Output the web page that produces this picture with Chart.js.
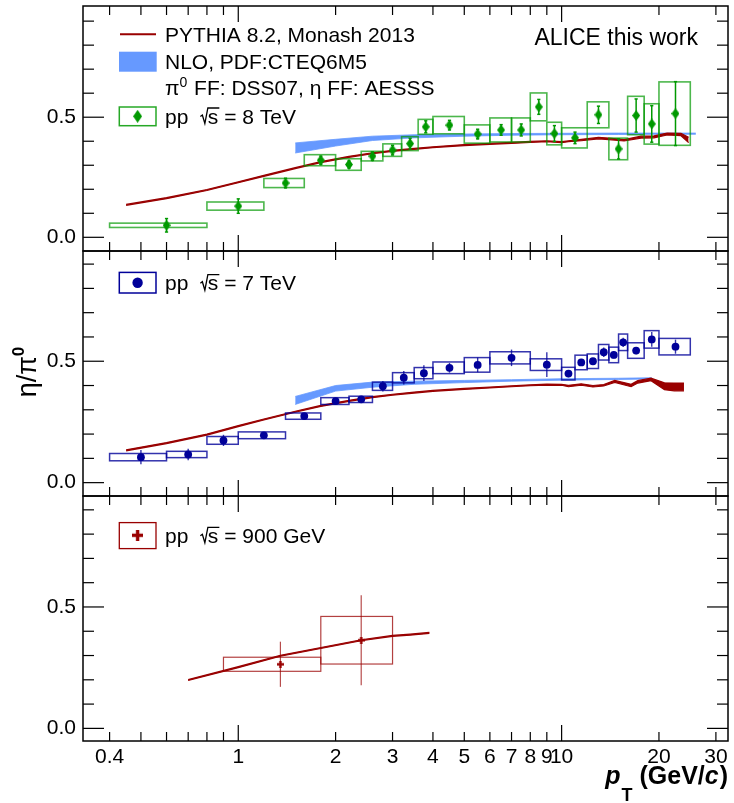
<!DOCTYPE html>
<html>
<head>
<meta charset="utf-8">
<script src="https://cdn.jsdelivr.net/npm/chart.js@4.4.0/dist/chart.umd.min.js"></script>
<style>
  html, body { margin: 0; padding: 0; background: #fff; }
  canvas { display: block; }
</style>
</head>
<body>
<canvas id="eta_pi0" width="734" height="803"></canvas>
<script>
const FONT = "'Liberation Sans', Arial, Helvetica, sans-serif";

// axes
const X_MIN = 0.331, X_MAX = 32.7;
const X_LABEL_TICKS = [0.4, 1, 2, 3, 4, 5, 6, 7, 8, 9, 10, 20, 30];
const X_LABELS = ['0.4', '1', '2', '3', '4', '5', '6', '7', '8', '9', '10', '20', '30'];
const X_MINOR_TICKS = [0.4, 0.5, 0.6, 0.7, 0.8, 0.9, 2, 3, 4, 5, 6, 7, 8, 9, 20, 30];
const X_MAJOR_TICKS = [1, 10];
const Y_TICKS = [0, 0.1, 0.2, 0.3, 0.4, 0.5, 0.6, 0.7, 0.8, 0.9];
const Y_LABEL_TICKS = [0, 0.5];

// pp 8 TeV
const PT_8 = [0.6, 1.0, 1.4, 1.8, 2.2, 2.6, 3.0, 3.4, 3.8, 4.5, 5.5, 6.5, 7.5, 8.5, 9.5, 11, 13, 15, 17, 19, 22.5];
const BIN_LO_8 = [0.4, 0.8, 1.2, 1.6, 2.0, 2.4, 2.8, 3.2, 3.6, 4, 5, 6, 7, 8, 9, 10, 12, 14, 16, 18, 20];
const BIN_HI_8 = [0.8, 1.2, 1.6, 2.0, 2.4, 2.8, 3.2, 3.6, 4.0, 5, 6, 7, 8, 9, 10, 12, 14, 16, 18, 20, 25];
const RATIO_8 = [0.050, 0.130, 0.226, 0.321, 0.303, 0.338, 0.363, 0.390, 0.460, 0.467, 0.430, 0.447, 0.447, 0.543, 0.432, 0.414, 0.510, 0.368, 0.507, 0.472, 0.515];
const STAT_8 = [0.028, 0.030, 0.020, 0.017, 0.015, 0.017, 0.020, 0.022, 0.025, 0.020, 0.020, 0.022, 0.025, 0.031, 0.033, 0.024, 0.036, 0.042, 0.069, 0.076, 0.133];
const SYS_8 = [0.009, 0.017, 0.019, 0.023, 0.024, 0.020, 0.026, 0.029, 0.031, 0.036, 0.038, 0.050, 0.050, 0.058, 0.047, 0.042, 0.054, 0.045, 0.080, 0.084, 0.132];

// pp 7 TeV
const PT_7 = [0.5, 0.7, 0.9, 1.2, 1.6, 2.0, 2.4, 2.8, 3.25, 3.75, 4.5, 5.5, 7.0, 9.0, 10.5, 11.5, 12.5, 13.5, 14.5, 15.5, 17.0, 19.0, 22.5];
const BIN_LO_7 = [0.4, 0.6, 0.8, 1.0, 1.4, 1.8, 2.2, 2.6, 3.0, 3.5, 4.0, 5.0, 6.0, 8.0, 10, 11, 12, 13, 14, 15, 16, 18, 20];
const BIN_HI_7 = [0.6, 0.8, 1.0, 1.4, 1.8, 2.2, 2.6, 3.0, 3.5, 4.0, 5.0, 6.0, 8.0, 10, 11, 12, 13, 14, 15, 16, 18, 20, 25];
const RATIO_7 = [0.105, 0.116, 0.174, 0.195, 0.274, 0.336, 0.343, 0.397, 0.432, 0.451, 0.473, 0.485, 0.514, 0.486, 0.449, 0.495, 0.500, 0.537, 0.526, 0.578, 0.544, 0.590, 0.560];
const STAT_7 = [0.029, 0.024, 0.023, 0.008, 0.008, 0.010, 0.012, 0.022, 0.028, 0.032, 0.020, 0.030, 0.034, 0.051, 0.015, 0.012, 0.012, 0.020, 0.015, 0.019, 0.015, 0.030, 0.029];
const SYS_7 = [0.015, 0.013, 0.016, 0.014, 0.013, 0.014, 0.013, 0.017, 0.021, 0.023, 0.024, 0.030, 0.025, 0.024, 0.026, 0.030, 0.030, 0.032, 0.032, 0.034, 0.032, 0.036, 0.034];

// pp 900 GeV
const PT_900 = [1.35, 2.4];
const BIN_LO_900 = [0.9, 1.8];
const BIN_HI_900 = [1.8, 3.0];
const RATIO_900 = [0.264, 0.363];
const STAT_900 = [0.093, 0.185];
const SYS_900 = [0.029, 0.098];

// PYTHIA 8.2 Monash 2013 (band: value +- err)
const PYTHIA_PT_8 = [0.45, 0.6, 0.8, 1.0, 1.2, 1.5, 1.8, 2.2, 2.6, 3.0, 3.5, 4.0, 5.0, 6.0, 7.0, 8.0, 9.0, 10.0, 10.5, 11.5, 13.0, 14.0, 15.6, 17.6, 19.3, 21.2, 23.4, 24.7];
const PYTHIA_8 = [0.135, 0.163, 0.197, 0.229, 0.256, 0.288, 0.313, 0.335, 0.350, 0.360, 0.368, 0.375, 0.384, 0.389, 0.393, 0.397, 0.400, 0.396, 0.400, 0.405, 0.413, 0.410, 0.404, 0.417, 0.418, 0.430, 0.428, 0.405];
const PYTHIA_ERR_8 = [0.002, 0.002, 0.002, 0.002, 0.002, 0.002, 0.002, 0.002, 0.002, 0.002, 0.002, 0.002, 0.002, 0.002, 0.002, 0.002, 0.002, 0.002, 0.002, 0.003, 0.003, 0.003, 0.003, 0.004, 0.004, 0.004, 0.005, 0.011];
const PYTHIA_PT_7 = [0.45, 0.6, 0.8, 1.0, 1.2, 1.5, 1.8, 2.2, 2.6, 3.0, 3.5, 4.0, 5.0, 6.0, 7.0, 8.0, 9.0, 10.0, 10.5, 11.5, 12.5, 13.5, 14.6, 16.4, 17.2, 18.9, 20.8, 22.3, 23.9];
const PYTHIA_7 = [0.133, 0.163, 0.198, 0.233, 0.260, 0.292, 0.316, 0.337, 0.352, 0.362, 0.371, 0.378, 0.386, 0.392, 0.397, 0.401, 0.404, 0.403, 0.398, 0.404, 0.397, 0.401, 0.417, 0.400, 0.415, 0.425, 0.397, 0.394, 0.394];
const PYTHIA_ERR_7 = [0.002, 0.002, 0.002, 0.002, 0.002, 0.002, 0.002, 0.002, 0.002, 0.002, 0.002, 0.002, 0.002, 0.002, 0.002, 0.002, 0.002, 0.002, 0.003, 0.003, 0.003, 0.003, 0.004, 0.005, 0.005, 0.005, 0.014, 0.016, 0.016];
const PYTHIA_PT_900 = [0.7, 1.0, 1.35, 1.8, 2.4, 3.0, 3.4, 3.9];
const PYTHIA_900 = [0.199, 0.252, 0.299, 0.331, 0.363, 0.381, 0.386, 0.393];
const PYTHIA_ERR_900 = [0.002, 0.002, 0.002, 0.002, 0.002, 0.002, 0.002, 0.002];

// NLO, PDF:CTEQ6M5 band (lower / upper edge)
const NLO_PT_8 = [1.5, 2.0, 2.6, 3.5, 5, 7, 10, 15, 20, 26];
const NLO_LO_8 = [0.351, 0.380, 0.403, 0.414, 0.421, 0.425, 0.427, 0.428, 0.429, 0.429];
const NLO_HI_8 = [0.393, 0.408, 0.421, 0.427, 0.430, 0.432, 0.433, 0.434, 0.434, 0.434];
const NLO_PT_7 = [1.5, 2.0, 2.6, 3.5, 5, 7, 10, 15, 19];
const NLO_LO_7 = [0.322, 0.377, 0.393, 0.405, 0.412, 0.418, 0.422, 0.425, 0.427];
const NLO_HI_7 = [0.355, 0.400, 0.414, 0.418, 0.421, 0.424, 0.428, 0.430, 0.432];

const GREEN = '#009900';
const BLUE = '#000099';
const RED = '#990000';
const NLO_BLUE = '#6699ff';

const points = (xs, ys) => xs.map((x, i) => ({ x: x, y: ys[i] }));
const shifted = (xs, ys, err, sign) => xs.map((x, i) => ({ x: x, y: ys[i] + sign * err[i] }));

function diamondMarker(w, h, color) {
  const c = document.createElement('canvas');
  c.width = w; c.height = h;
  const g = c.getContext('2d');
  g.fillStyle = color;
  g.beginPath();
  g.moveTo(w / 2, 0); g.lineTo(w, h / 2); g.lineTo(w / 2, h); g.lineTo(0, h / 2);
  g.closePath();
  g.fill();
  return c;
}

function crossMarker(s, t, color) {
  const c = document.createElement('canvas');
  c.width = s; c.height = s;
  const g = c.getContext('2d');
  g.fillStyle = color;
  g.fillRect((s - t) / 2, 0, t, s);
  g.fillRect(0, (s - t) / 2, s, t);
  return c;
}

const diamondData = diamondMarker(8, 11, GREEN);
const diamondLegend = diamondMarker(9, 13, GREEN);
const crossData = crossMarker(7, 2.4, RED);
const crossLegend = crossMarker(11, 3.4, RED);

const bandLine = (yAxisID, data, color, width, fill) => ({
  type: 'line', yAxisID: yAxisID, data: data,
  borderColor: color, backgroundColor: color, borderWidth: width,
  pointRadius: 0, tension: 0, fill: fill
});

const datasets = [
  {
    type: 'scatter', yAxisID: 'yTop', data: points(PT_8, RATIO_8),
    pointStyle: diamondData, pointRadius: 5,
    errors: { lo: BIN_LO_8, hi: BIN_HI_8, stat: STAT_8, sys: SYS_8, box: 'rgba(0,153,0,0.7)', boxWidth: 1.6, bar: GREEN, barWidth: 1.5, cap: 1.6 }
  },
  {
    type: 'scatter', yAxisID: 'yMid', data: points(PT_7, RATIO_7),
    pointStyle: 'circle', pointRadius: 3.9, backgroundColor: BLUE, borderWidth: 0,
    errors: { lo: BIN_LO_7, hi: BIN_HI_7, stat: STAT_7, sys: SYS_7, box: 'rgba(0,0,153,0.8)', boxWidth: 1.5, bar: 'rgba(0,0,153,0.8)', barWidth: 1.4, cap: 0 }
  },
  {
    type: 'scatter', yAxisID: 'yBot', data: points(PT_900, RATIO_900),
    pointStyle: crossData, pointRadius: 4,
    errors: { lo: BIN_LO_900, hi: BIN_HI_900, stat: STAT_900, sys: SYS_900, box: 'rgba(153,0,0,0.75)', boxWidth: 1.2, bar: 'rgba(153,0,0,0.7)', barWidth: 1.2, cap: 0 }
  },
  bandLine('yTop', shifted(PYTHIA_PT_8, PYTHIA_8, PYTHIA_ERR_8, -1), RED, 1.2, false),
  bandLine('yTop', shifted(PYTHIA_PT_8, PYTHIA_8, PYTHIA_ERR_8, 1), RED, 1.2, '-1'),
  bandLine('yMid', shifted(PYTHIA_PT_7, PYTHIA_7, PYTHIA_ERR_7, -1), RED, 1.2, false),
  bandLine('yMid', shifted(PYTHIA_PT_7, PYTHIA_7, PYTHIA_ERR_7, 1), RED, 1.2, '-1'),
  bandLine('yBot', shifted(PYTHIA_PT_900, PYTHIA_900, PYTHIA_ERR_900, -1), RED, 1.2, false),
  bandLine('yBot', shifted(PYTHIA_PT_900, PYTHIA_900, PYTHIA_ERR_900, 1), RED, 1.2, '-1'),
  bandLine('yTop', points(NLO_PT_8, NLO_LO_8), NLO_BLUE, 0.8, false),
  bandLine('yTop', points(NLO_PT_8, NLO_HI_8), NLO_BLUE, 0.8, '-1'),
  bandLine('yMid', points(NLO_PT_7, NLO_LO_7), NLO_BLUE, 0.8, false),
  bandLine('yMid', points(NLO_PT_7, NLO_HI_7), NLO_BLUE, 0.8, '-1')
];

function line(ctx, x0, y0, x1, y1) {
  ctx.beginPath(); ctx.moveTo(x0, y0); ctx.lineTo(x1, y1); ctx.stroke();
}

// boxes = systematic, bars = statistical
function drawErrors(chart, ds) {
  const ctx = chart.ctx;
  const xs = chart.scales.x;
  const ys = chart.scales[ds.yAxisID];
  const e = ds.errors;
  ctx.save();
  ds.data.forEach((p, i) => {
    const x0 = xs.getPixelForValue(e.lo[i]);
    const x1 = xs.getPixelForValue(e.hi[i]);
    const yT = ys.getPixelForValue(p.y + e.sys[i]);
    const yB = ys.getPixelForValue(p.y - e.sys[i]);
    ctx.strokeStyle = e.box; ctx.lineWidth = e.boxWidth;
    ctx.strokeRect(x0, yT, x1 - x0, yB - yT);
    const xc = xs.getPixelForValue(p.x);
    const sT = ys.getPixelForValue(p.y + e.stat[i]);
    const sB = ys.getPixelForValue(p.y - e.stat[i]);
    ctx.strokeStyle = e.bar; ctx.lineWidth = e.barWidth;
    line(ctx, xc, sT, xc, sB);
    if (e.cap > 0) {
      line(ctx, xc - e.cap, sT, xc + e.cap, sT);
      line(ctx, xc - e.cap, sB, xc + e.cap, sB);
    }
  });
  ctx.restore();
}

// "pp  √s = ..." with a drawn radical
function drawEnergyLabel(ctx, x, base, energy) {
  ctx.fillText('pp', x, base);
  const rx = x + ctx.measureText('pp').width + 12;
  const sw = ctx.measureText('s').width;
  ctx.lineWidth = 1.3;
  ctx.beginPath();
  ctx.moveTo(rx, base - 7);
  ctx.lineTo(rx + 2, base - 8.5);
  ctx.lineTo(rx + 4.5, base);
  ctx.lineTo(rx + 7.5, base - 15.5);
  ctx.lineTo(rx + 8.5 + sw, base - 15.5);
  ctx.stroke();
  ctx.fillText('s', rx + 7.5, base);
  ctx.fillText(' = ' + energy, rx + 7.5 + sw, base);
}

function drawPieces(ctx, pieces, xStart, base) {
  let x = xStart;
  pieces.forEach(p => {
    ctx.font = p.font;
    ctx.fillText(p.text, x, base + (p.dy || 0));
    x += ctx.measureText(p.text).width + (p.gap || 0);
  });
}

function piecesWidth(ctx, pieces) {
  return pieces.reduce((w, p) => { ctx.font = p.font; return w + ctx.measureText(p.text).width + (p.gap || 0); }, 0);
}

// keep the plot frame where ROOT put it: no label overhang padding
const noPadding = s => { s.paddingTop = 0; s.paddingBottom = 0; s.paddingLeft = 0; s.paddingRight = 0; };

const rootStyle = {
  id: 'rootStyle',
  beforeDatasetDraw(chart, args) {
    const ds = chart.data.datasets[args.index];
    if (ds.errors) drawErrors(chart, ds);
  },
  afterDraw(chart) {
    const ctx = chart.ctx;
    const xs = chart.scales.x;
    const { left, right } = chart.chartArea;
    ctx.save();
    ctx.strokeStyle = '#000';
    ctx.fillStyle = '#000';

    ['yTop', 'yMid', 'yBot'].forEach(id => {
      const ys = chart.scales[id];
      const top = ys.top, bottom = ys.bottom;
      ctx.lineWidth = 1.2;
      Y_TICKS.forEach(v => {
        const py = ys.getPixelForValue(v);
        const len = Y_LABEL_TICKS.includes(v) ? 21 : 11;
        line(ctx, left, py, left + len, py);
        line(ctx, right, py, right - len, py);
      });
      X_MINOR_TICKS.forEach(v => {
        const px = xs.getPixelForValue(v);
        line(ctx, px, bottom, px, bottom - 9);
        line(ctx, px, top, px, top + 9);
      });
      X_MAJOR_TICKS.forEach(v => {
        const px = xs.getPixelForValue(v);
        line(ctx, px, bottom, px, bottom - 16);
        line(ctx, px, top, px, top + 16);
      });
      ctx.lineWidth = 1.5;
      ctx.strokeRect(left, top, right - left, bottom - top);
    });

    // legends
    const legendFont = `21px ${FONT}`;
    const tx = 165;
    const pTop = chart.scales.yTop.top;
    ctx.font = legendFont;
    ctx.textAlign = 'left';
    ctx.textBaseline = 'alphabetic';

    ctx.strokeStyle = RED; ctx.lineWidth = 2;
    line(ctx, 120, pTop + 28.3, 156, pTop + 28.3);
    ctx.fillText('PYTHIA 8.2, Monash 2013', tx, pTop + 28.3 + 7.5);

    ctx.fillStyle = NLO_BLUE;
    ctx.fillRect(119, pTop + 45.7, 37.7, 20);
    ctx.fillStyle = '#000';
    ctx.fillText('NLO, PDF:CTEQ6M5', tx, pTop + 55.7 + 7.5);

    drawPieces(ctx, [
      { text: 'π', font: legendFont },
      { text: '0', font: `14px ${FONT}`, dy: -8, gap: 1 },
      { text: ' FF: DSS07, η FF: AESSS', font: legendFont }
    ], tx, pTop + 81 + 7.5);
    ctx.font = legendFont;

    ctx.strokeStyle = 'rgba(0,153,0,0.85)'; ctx.lineWidth = 1.5;
    ctx.strokeRect(119.3, pTop + 101, 36.7, 18.7);
    ctx.drawImage(diamondLegend, 137.6 - 4.5, pTop + 110.3 - 6.5);
    ctx.strokeStyle = '#000';
    drawEnergyLabel(ctx, tx, pTop + 110 + 7.5, '8 TeV');

    ctx.font = `23px ${FONT}`;
    ctx.textAlign = 'right';
    ctx.fillText('ALICE this work', 698, pTop + 31 + 8.2);
    ctx.textAlign = 'left';
    ctx.font = legendFont;

    const pMid = chart.scales.yMid.top;
    ctx.strokeStyle = BLUE; ctx.lineWidth = 1.5;
    ctx.strokeRect(119.3, pMid + 21.4, 36.7, 20.6);
    ctx.fillStyle = BLUE;
    ctx.beginPath(); ctx.arc(137.6, pMid + 31.7, 5.2, 0, Math.PI * 2); ctx.fill();
    ctx.fillStyle = '#000'; ctx.strokeStyle = '#000';
    drawEnergyLabel(ctx, tx, pMid + 31.7 + 7.5, '7 TeV');

    const pBot = chart.scales.yBot.top;
    ctx.strokeStyle = RED; ctx.lineWidth = 1.3;
    ctx.strokeRect(119.3, pBot + 26.6, 36.7, 26);
    ctx.drawImage(crossLegend, 137.6 - 5.5, pBot + 39.3 - 5.5);
    ctx.strokeStyle = '#000';
    drawEnergyLabel(ctx, tx, pBot + 39.3 + 7.5, '900 GeV');

    // y title
    ctx.save();
    ctx.translate(35.5, 372);
    ctx.rotate(-Math.PI / 2);
    const yTitle = [
      { text: 'η/π', font: `27px ${FONT}` },
      { text: '0', font: `bold 17px ${FONT}`, dy: -12, gap: 0 }
    ];
    drawPieces(ctx, yTitle, -piecesWidth(ctx, yTitle) / 2, 0);
    ctx.restore();

    // x title
    const xTitle = [
      { text: 'p', font: `italic bold 25px ${FONT}`, gap: 1 },
      { text: 'T', font: `bold 18px ${FONT}`, dy: 17 },
      { text: ' (GeV/', font: `bold 25px ${FONT}` },
      { text: 'c', font: `italic bold 25px ${FONT}`, gap: 1 },
      { text: ')', font: `bold 25px ${FONT}` }
    ];
    drawPieces(ctx, xTitle, right - piecesWidth(ctx, xTitle), 784);
    ctx.restore();
  }
};

const yScale = (min, max, weight) => ({
  type: 'linear', position: 'left', stack: 'panels', stackWeight: 1, weight: weight,
  min: min, max: max,
  grid: { display: false, drawTicks: false },
  border: { display: false },
  afterBuildTicks: s => { s.ticks = Y_LABEL_TICKS.map(v => ({ value: v })); },
  afterFit: s => { s.width = 83; noPadding(s); },
  ticks: { padding: 7, color: '#000', font: { family: FONT, size: 21 }, callback: v => Number(v).toFixed(1) }
});

const ctx = document.querySelector('#eta_pi0').getContext('2d');
new Chart(ctx, {
  type: 'scatter',
  data: { datasets: datasets },
  plugins: [rootStyle],
  options: {
    responsive: false,
    animation: false,
    layout: { padding: { top: 5, right: 3, bottom: 0, left: 0 } },
    plugins: { legend: { display: false }, tooltip: { enabled: false } },
    scales: {
      x: {
        type: 'logarithmic', min: X_MIN, max: X_MAX, bounds: 'data',
        grid: { display: false, drawTicks: false },
        border: { display: false },
        afterBuildTicks: s => { s.ticks = X_LABEL_TICKS.map(v => ({ value: v })); },
        afterFit: s => { s.height = 62; noPadding(s); },
        ticks: {
          autoSkip: false, maxRotation: 0, padding: 4, color: '#000',
          font: { family: FONT, size: 21 },
          callback: (v, i) => X_LABELS[i]
        }
      },
      yTop: yScale(-0.057, 0.963, 3),
      yMid: yScale(-0.055, 0.954, 2),
      yBot: yScale(-0.052, 0.957, 1)
    }
  }
});
</script>
</body>
</html>
